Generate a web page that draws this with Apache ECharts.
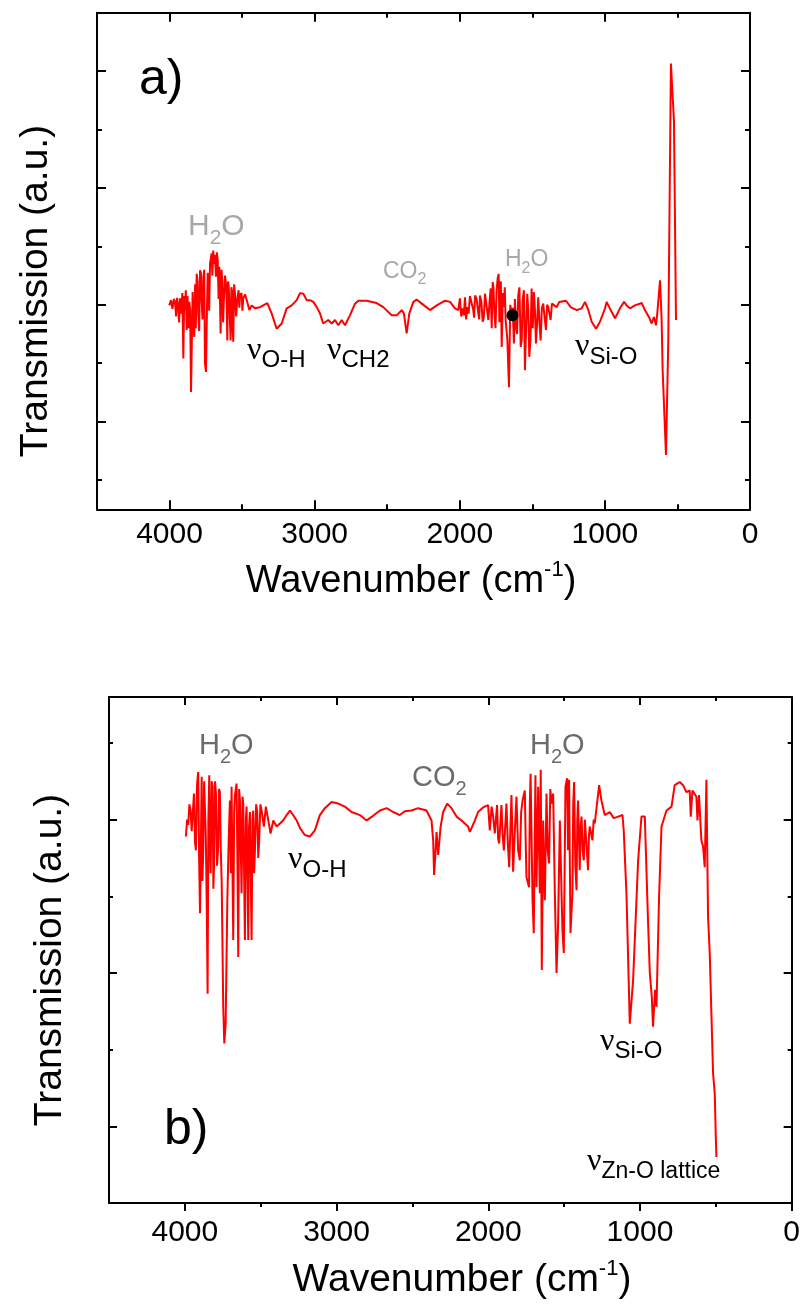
<!DOCTYPE html>
<html>
<head>
<meta charset="utf-8">
<script src="https://cdn.jsdelivr.net/npm/echarts@6/dist/echarts.min.js"></script>
<style>
html,body{margin:0;padding:0;background:#fff;}
#chart{width:803px;height:1305px;}
</style>
</head>
<body>
<div id="chart"></div>
<script>
// panel a) spectrum, wavenumber (cm-1) and transmission (a.u.)
var waveA = [4002,3990,3980,3970,3962,3955,3948,3940,3934,3928,
	3920,3912,3905,3899,3894,3888,3882,3876,3870,3864,
	3858,3852,3841,3836,3830,3824,3819,3813,3807,3802,
	3796,3790,3784,3779,3773,3767,3761,3756,3749,3742,
	3737,3733,3727,3721,3710,3705,3699,3693,3687,3680,
	3674,3668,3662,3657,3648,3642,3637,3631,3625,3618,
	3611,3606,3602,3597,3592,3585,3579,3574,3570,3565,
	3561,3555,3549,3541,3533,3524,3519,3515,3504,3498,
	3492,3480,3468,3459,3450,3434,3411,3377,3326,3296,
	3262,3227,3193,3158,3124,3101,3078,3055,3032,3009,
	2986,2963,2941,2906,2883,2860,2837,2814,2791,2757,
	2722,2699,2642,2573,2527,2469,2435,2400,2385,2366,
	2348,2320,2297,2262,2205,2159,2102,2067,2033,2010,
	1999,1990,1980,1972,1964,1956,1948,1939,1930,1918,
	1907,1901,1895,1884,1872,1866,1861,1851,1842,1834,
	1826,1815,1803,1795,1787,1780,1773,1768,1762,1754,
	1746,1739,1732,1727,1723,1717,1711,1703,1695,1690,
	1684,1672,1661,1652,1642,1635,1627,1620,1613,1605,
	1597,1589,1580,1573,1567,1558,1551,1543,1535,1528,
	1521,1513,1505,1497,1489,1482,1475,1467,1459,1451,
	1443,1434,1425,1416,1406,1398,1390,1382,1374,1365,
	1356,1332,1314,1268,1236,1194,1160,1137,1114,1091,
	1061,1034,999,988,960,930,896,868,850,827,
	793,746,724,694,678,662,648,639,620,609,
	602,579,563,545,524,510];
var transA = [2.99,3.08,2.93,3.10,3.05,2.80,3.12,2.96,2.70,3.11,
	2.85,3.20,2.08,3.15,2.91,3.25,2.57,3.15,2.60,3.05,
	2.90,1.51,3.22,2.70,2.45,3.35,2.60,3.53,3.40,2.85,
	2.55,3.59,3.55,3.08,2.75,3.48,3.60,2.00,1.85,2.95,
	3.55,3.36,2.90,3.71,3.88,3.50,3.93,3.70,3.85,3.48,
	3.90,3.76,3.10,3.65,2.51,3.60,3.42,2.70,3.13,3.50,
	3.36,3.00,2.39,3.40,3.31,2.80,2.39,3.30,3.25,2.60,
	2.37,3.35,3.19,2.80,3.11,3.25,2.95,3.16,3.20,2.90,
	3.11,3.18,3.08,3.10,2.91,2.99,2.94,2.96,3.03,2.85,
	2.59,2.68,2.94,2.99,3.08,3.20,3.19,3.08,3.08,3.05,
	2.96,2.85,2.68,2.74,2.68,2.74,2.65,2.74,2.65,2.82,
	3.02,3.07,3.07,3.03,2.96,2.82,2.82,2.91,2.85,2.51,
	2.85,3.05,3.09,3.02,2.91,2.99,3.07,3.05,2.94,2.91,
	3.11,2.80,2.94,2.82,3.13,2.75,2.96,2.85,3.15,3.12,
	2.91,2.78,3.16,3.10,2.85,2.75,3.16,3.05,2.71,2.80,
	3.19,3.22,2.74,3.05,3.28,2.60,3.39,3.30,2.91,2.60,
	3.25,3.45,3.53,2.70,3.31,3.40,2.28,3.20,2.96,3.30,
	2.74,2.40,1.59,3.00,2.82,2.95,2.34,3.10,2.62,2.50,
	3.16,3.30,2.28,2.40,3.08,3.25,1.88,2.60,3.19,2.90,
	2.11,2.40,3.28,2.60,3.22,2.90,2.34,2.70,3.13,2.70,
	2.39,2.95,3.02,2.80,2.57,3.00,2.96,2.95,2.74,3.02,
	2.99,2.96,3.05,3.07,2.96,2.91,2.94,3.05,2.91,2.71,
	2.59,2.71,2.94,3.05,2.91,2.77,2.94,3.05,2.99,2.94,
	2.99,3.03,2.91,2.78,2.68,2.79,2.65,2.85,3.42,2.74,
	1.88,0.43,2.39,7.13,6.15,2.74];
var dotA = [1637, 2.82];

// panel b) spectrum
var waveB = [3993,3985,3978,3970,3962,3955,3949,3940,3933,3927,
	3920,3912,3906,3900,3889,3884,3879,3873,3867,3862,
	3856,3850,3845,3839,3835,3830,3823,3817,3812,3808,
	3801,3795,3788,3780,3775,3769,3763,3757,3747,3740,
	3731,3720,3711,3703,3697,3692,3681,3675,3670,3659,
	3653,3648,3642,3637,3626,3620,3615,3604,3598,3593,
	3582,3577,3571,3560,3554,3549,3543,3538,3530,3523,
	3516,3510,3502,3494,3479,3466,3450,3435,3417,3395,
	3373,3352,3329,3307,3286,3263,3241,3209,3176,3143,
	3110,3077,3033,2989,2945,2901,2846,2802,2759,2714,
	2670,2627,2583,2550,2506,2462,2407,2374,2363,2357,
	2347,2341,2330,2314,2297,2271,2242,2209,2176,2133,
	2121,2088,2067,2034,2001,1990,1978,1968,1957,1942,
	1935,1928,1913,1905,1897,1880,1871,1862,1847,1842,
	1836,1825,1814,1803,1792,1783,1774,1759,1753,1748,
	1731,1726,1721,1708,1700,1689,1682,1671,1665,1660,
	1654,1647,1638,1632,1627,1616,1608,1599,1591,1583,
	1572,1561,1550,1540,1528,1520,1511,1502,1491,1480,
	1474,1467,1458,1445,1440,1434,1426,1418,1413,1408,
	1397,1391,1385,1378,1370,1363,1357,1342,1336,1331,
	1313,1305,1298,1283,1269,1254,1232,1199,1173,1144,
	1115,1107,1089,1067,1045,1012,990,968,947,935,
	922,914,900,891,874,858,825,792,771,738,
	716,694,672,665,654,628,621,611,595,584,
	573,562,551,540,529,518,507,500,496];
var transB = [4.78,5.00,4.93,5.20,5.12,4.85,5.04,5.34,4.70,4.60,
	5.45,5.62,4.50,3.78,5.56,4.20,4.56,5.50,5.52,4.80,
	3.95,2.73,5.00,5.58,4.60,4.30,5.50,5.43,4.10,4.38,
	5.50,5.34,4.40,4.65,5.40,5.36,4.60,4.17,2.56,2.08,
	2.34,3.95,4.73,5.25,4.30,5.43,3.43,5.10,5.32,5.47,
	4.40,3.21,5.40,5.25,4.04,5.30,5.21,3.43,5.00,5.17,
	3.43,4.90,5.10,3.43,5.00,5.12,4.30,4.60,5.20,5.10,
	4.50,4.73,5.20,5.12,4.91,5.17,4.99,4.82,4.99,4.91,
	4.95,4.99,5.06,5.12,5.06,4.99,4.89,4.80,4.78,4.86,
	5.06,5.15,5.23,5.21,5.17,5.10,5.06,4.99,5.05,5.12,
	5.15,5.10,5.06,5.11,5.12,5.15,5.12,4.99,4.73,4.28,
	4.60,4.84,4.54,4.91,5.10,5.21,5.15,5.04,4.99,4.91,
	4.84,4.99,5.10,5.16,5.19,4.86,5.17,5.05,4.82,5.19,
	4.75,4.69,5.19,4.80,4.60,5.21,4.70,4.38,5.32,4.90,
	4.32,4.85,5.30,4.60,4.47,5.10,5.25,5.38,4.70,4.25,
	4.12,5.20,5.60,3.95,3.52,5.58,4.12,5.43,4.60,4.04,
	5.65,3.04,4.99,4.30,3.95,5.34,4.60,4.43,5.40,5.21,
	5.34,4.04,3.00,3.60,4.99,4.30,3.56,3.26,5.43,5.54,
	4.60,5.52,3.52,4.04,5.20,5.49,4.40,4.08,5.00,5.25,
	4.34,4.90,5.04,4.60,4.47,5.00,4.99,4.34,4.80,4.91,
	4.73,5.00,4.95,5.21,5.45,5.25,5.06,5.10,5.02,5.04,
	5.06,4.86,4.04,2.34,2.91,4.47,5.04,5.04,3.69,3.00,
	2.69,2.30,2.78,2.56,3.99,4.91,5.12,5.17,5.45,5.49,
	5.45,5.36,5.38,5.04,5.38,5.30,4.99,5.32,4.73,4.65,
	4.38,5.52,3.73,3.26,2.47,1.69,1.43,0.86,0.60];

// ticks
var xMajor = [0,1000,2000,3000,4000];
var xMinor = [500,1500,2500,3500];
var yMajorA = [1,3,5,7];
var yMinorA = [0,2,4,6];
var yMajorB = [1,3,5];
var yMinorB = [2,4,6];

var FONT = '"Liberation Sans", Arial, sans-serif';
var SERIF = '"Liberation Serif", "Times New Roman", serif';

function pairs(xs,ys){
	var out = [];
	for(var i=0;i<xs.length;i++){
		out.push([xs[i],ys[i]]);
	}
	return out;
}

// one axis that only draws a line and/or a set of ticks
function tickAxis(base,pos,values,len,inside,showLine,label){
	return Object.assign({},base,{
		position:pos,
		axisLine:{show:showLine,onZero:false,lineStyle:{color:'#000',width:2}},
		axisTick:{show:true,inside:inside,length:len,customValues:values,lineStyle:{color:'#000',width:2}},
		axisLabel:label || {show:false},
		splitLine:{show:false}
	});
}

function xLabels(margin){
	return {show:true,customValues:xMajor,margin:margin,fontSize:30,fontFamily:FONT,color:'#000',
		formatter:function(v){return String(v);}};
}

function panelAxes(grid,ymin,ymax,yMaj,yMin,bottomInside,labelMargin,majLen,minLen){
	var bx = {gridIndex:grid,type:'value',min:0,max:4500,inverse:true};
	var by = {gridIndex:grid,type:'value',min:ymin,max:ymax};
	return {
		x:[
			tickAxis(bx,'bottom',xMajor,majLen,bottomInside,true,xLabels(labelMargin)),
			tickAxis(bx,'bottom',xMinor,minLen,bottomInside,false),
			tickAxis(bx,'top',xMajor,majLen,true,true),
			tickAxis(bx,'top',xMinor,minLen,true,false)
		],
		y:[
			tickAxis(by,'left',yMaj,majLen,true,true),
			tickAxis(by,'left',yMin,minLen,true,false),
			tickAxis(by,'right',yMaj,majLen,true,true),
			tickAxis(by,'right',yMin,minLen,true,false)
		]
	};
}

// text with a lowered part: {m|..} main, {n|..} greek, {s|..} subscript
// base = baseline of the main text
function note(x,base,text,fsM,fsS,drop,color){
	var padS = 0.8465*(fsM-fsS)+drop;
	return {
		type:'text',x:x,y:base-0.8465*fsM,silent:true,z:20,
		style:{text:text,align:'left',verticalAlign:'top',fill:color,fontSize:fsM,fontFamily:FONT,
			rich:{
				m:{fontSize:fsM,verticalAlign:'top',fontFamily:FONT,fill:color},
				n:{fontSize:fsM,verticalAlign:'top',fontFamily:SERIF,fill:color},
				s:{fontSize:fsS,verticalAlign:'top',padding:[padS,0,0,0],fontFamily:FONT,fill:color}
			}}
	};
}

// axis title with superscript -1
function xTitle(cx,base,fs){
	var fsS = 22, raise = 17;
	var padM = Math.max(0,0.8465*(fsS-fs)+raise);
	return {
		type:'text',x:cx,y:base-padM-0.8465*fs,silent:true,
		style:{text:'{m|Wavenumber (cm}{p|-1}{m|)}',align:'center',verticalAlign:'top',fill:'#000',fontSize:fs,fontFamily:FONT,
			rich:{
				m:{fontSize:fs,verticalAlign:'top',padding:[padM,0,0,0],fontFamily:FONT,fill:'#000'},
				p:{fontSize:fsS,verticalAlign:'top',fontFamily:FONT,fill:'#000'}
			}}
	};
}

function yTitle(cx,cy){
	return {
		type:'text',x:cx,y:cy,rotation:Math.PI/2,silent:true,
		style:{text:'Transmission (a.u.)',align:'center',verticalAlign:'middle',fontSize:39,fontFamily:FONT,fill:'#000'}
	};
}

var axA = panelAxes(0,-0.5,8,yMajorA,yMinorA,true,10,9,5);
var axB = panelAxes(1,0,6.6,yMajorB,yMinorB,false,15,8,4);

var grayA = '#a8a8a8';
var grayB = '#6b6b6b';

var myChart = echarts.init(document.getElementById('chart'),null,{renderer:'canvas'});
var option = {
	animation:false,
	backgroundColor:'#fff',
	grid:[
		{left:97,top:12.7,width:653,height:496.6,show:false},
		{left:109,top:697,width:683,height:506,show:false}
	],
	xAxis:axA.x.concat(axB.x),
	yAxis:axA.y.concat(axB.y),
	series:[
		{
			type:'line',xAxisIndex:0,yAxisIndex:0,data:pairs(waveA,transA),
			showSymbol:false,symbol:'none',silent:true,z:2,
			lineStyle:{color:'#ff0000',width:2}
		},
		{
			type:'scatter',xAxisIndex:0,yAxisIndex:0,data:[dotA],
			symbol:'circle',symbolSize:12,silent:true,z:10,
			itemStyle:{color:'#000',opacity:1,borderWidth:0}
		},
		{
			type:'line',xAxisIndex:4,yAxisIndex:4,data:pairs(waveB,transB),
			showSymbol:false,symbol:'none',silent:true,z:2,
			lineStyle:{color:'#ff0000',width:2}
		}
	],
	graphic:[
		// panel a
		note(139,98,'{m|a)}',50,50,0,'#000'),
		note(188,237,'{m|H}{s|2}{m|O}',30,21,8,grayA),
		note(383,280,'{m|CO}{s|2}',23,16,5,grayA),
		note(505,268,'{m|H}{s|2}{m|O}',23,16,6,grayA),
		note(247,362,'{n|ν}{s|O-H}',32,24,7,'#000'),
		note(327,362,'{n|ν}{s|CH2}',32,24,7,'#000'),
		note(575,358,'{n|ν}{s|Si-O}',32,24,8,'#000'),
		xTitle(411,595,38),
		yTitle(36,291),
		// panel b
		note(164,1148,'{m|b)}',50,50,0,'#000'),
		note(199,756,'{m|H}{s|2}{m|O}',29,20,8,grayB),
		note(412,788,'{m|CO}{s|2}',29,20,8,grayB),
		note(530,756,'{m|H}{s|2}{m|O}',29,20,8,grayB),
		note(288,871,'{n|ν}{s|O-H}',32,24,8,'#000'),
		note(600,1053,'{n|ν}{s|Si-O}',32,24,7,'#000'),
		note(587,1173,'{n|ν}{s|Zn-O lattice}',32,23,7,'#000'),
		xTitle(462,1294,39),
		yTitle(50,960)
	]
};
myChart.setOption(option);
</script>
</body>
</html>
